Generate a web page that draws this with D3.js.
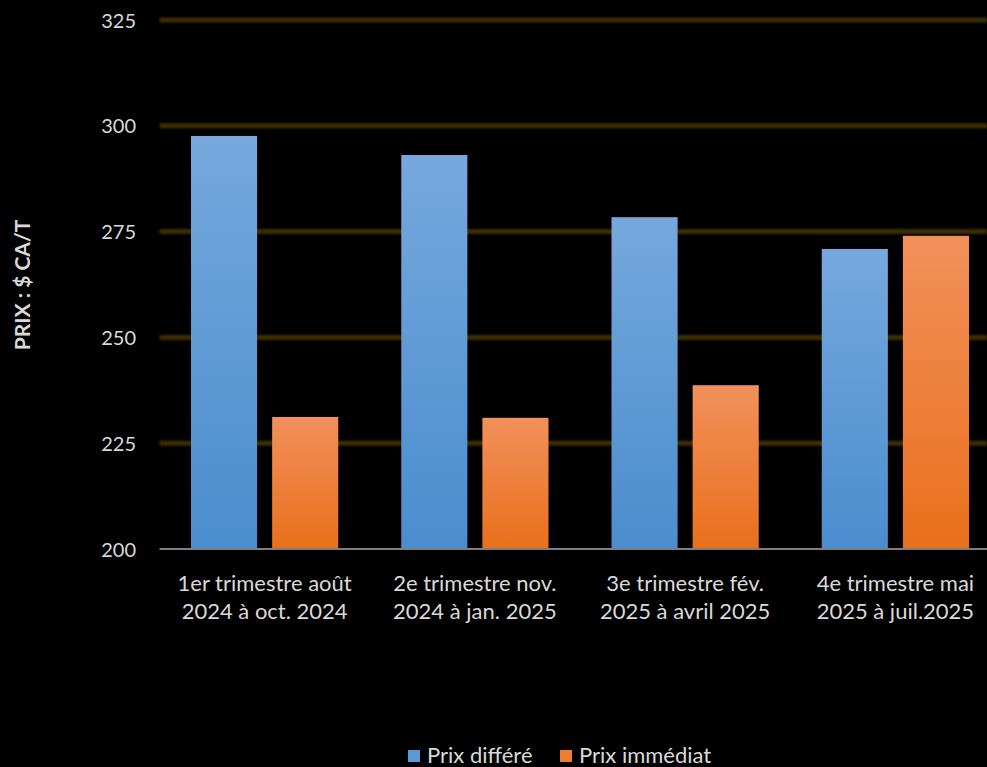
<!DOCTYPE html>
<html>
<head>
<meta charset="utf-8">
<script src="https://cdn.jsdelivr.net/npm/d3@7"></script>
<style>
  html, body { margin: 0; padding: 0; background: #000; overflow: hidden; }
  svg { display: block; }
  text { font-family: Lato, "Open Sans", sans-serif; }
</style>
</head>
<body>
<svg id="chart" width="987" height="767"></svg>
<script>
// Trimestres (libellés sur deux lignes)
const categories = [
  ["1er trimestre août", "2024 à oct. 2024"],
  ["2e trimestre nov.", "2024 à jan. 2025"],
  ["3e trimestre fév.", "2025 à avril 2025"],
  ["4e trimestre mai", "2025 à juil.2025"]
];
const seriesNames = ["Prix différé", "Prix immédiat"];
const prixDiffere = [297.6, 293.1, 278.4, 270.9];
const prixImmediat = [231.2, 231.0, 238.7, 274.0];
const yTicks = [200, 225, 250, 275, 300, 325];
const yLabel = "PRIX : $ CA/T";

const svg = d3.select("#chart");
const plotLeft = 159.5, plotRight = 1000.5, plotTop = 20, plotBottom = 549;

const x0 = d3.scaleBand().domain(d3.range(categories.length)).range([plotLeft, plotRight]).paddingInner(0).paddingOuter(0);
const x1 = d3.scaleBand().domain([0, 1]).range([31.5, x0.bandwidth() - 31.5]).paddingInner(0.185);
const y = d3.scaleLinear().domain([200, 325]).range([plotBottom, plotTop]);

// Dégradés des barres
const defs = svg.append("defs");
const grads = [
  { id: "gBlue", c0: "#76a8dd", c1: "#4a8dce" },
  { id: "gOrange", c0: "#f2905b", c1: "#e9701c" }
];
grads.forEach(g => {
  const lg = defs.append("linearGradient").attr("id", g.id)
    .attr("x1", 0).attr("y1", 0).attr("x2", 0).attr("y2", 1);
  lg.append("stop").attr("offset", "0%").attr("stop-color", g.c0);
  lg.append("stop").attr("offset", "100%").attr("stop-color", g.c1);
});
const glow = defs.append("filter").attr("id", "soft")
  .attr("filterUnits", "userSpaceOnUse")
  .attr("x", 0).attr("y", 0).attr("width", 987).attr("height", 767);
glow.append("feGaussianBlur").attr("stdDeviation", 0.8);

// Quadrillage horizontal
const gridG = svg.append("g");
gridG.selectAll("line").data(yTicks.filter(t => t > 200)).join("line")
  .attr("x1", plotLeft).attr("x2", 987)
  .attr("y1", d => y(d)).attr("y2", d => y(d))
  .attr("stroke", "#3e2d06").attr("stroke-width", 5)
  .attr("filter", "url(#soft)");

// Axe Y (étiquettes seulement)
const yAxis = d3.axisLeft(y).tickValues(yTicks).tickSize(0).tickPadding(0);
const yG = svg.append("g").attr("transform", `translate(136,0)`).call(yAxis);
yG.select(".domain").remove();
yG.selectAll("text").attr("fill", "#d9d9d9").style("font-size", "20px").attr("dy", "0.35em");

// Barres
const data = categories.map((c, i) => [prixDiffere[i], prixImmediat[i]]);
const groups = svg.append("g").selectAll("g").data(data).join("g")
  .attr("transform", (d, i) => `translate(${x0(i)},0)`);
groups.selectAll("rect").data(d => d).join("rect")
  .attr("x", (d, j) => x1(j))
  .attr("width", x1.bandwidth())
  .attr("y", d => y(d))
  .attr("height", d => y(200) - y(d))
  .attr("fill", (d, j) => j === 0 ? "url(#gBlue)" : "url(#gOrange)");

// Axe X
const xAxis = d3.axisBottom(x0).tickSize(0).tickFormat(() => "");
const xG = svg.append("g").attr("transform", `translate(0,${plotBottom})`).call(xAxis);
xG.select(".domain").attr("stroke", "#7f7f7f").attr("stroke-width", 2)
  .attr("d", `M${plotLeft},0H987`);
xG.selectAll(".tick").each(function(d, i) {
  const t = d3.select(this).append("text")
    .attr("fill", "#d9d9d9").attr("text-anchor", "middle")
    .style("font-size", "22px");
  categories[i].forEach((line, k) => {
    t.append("tspan").attr("x", 0).attr("y", 42 + k * 28).text(line);
  });
});

// Titre de l'axe Y
svg.append("text")
  .attr("transform", "translate(30,285) rotate(-90)")
  .attr("text-anchor", "middle")
  .attr("fill", "#d9d9d9")
  .style("font-size", "21px").style("font-weight", "bold")
  .text(yLabel);

// Légende
const legendColors = ["#5b9bd5", "#ed7d31"];
const legend = svg.append("g");
const itemX = [408, 560];
seriesNames.forEach((name, i) => {
  const g = legend.append("g").attr("transform", `translate(${itemX[i]},750)`);
  g.append("rect").attr("width", 12).attr("height", 12).attr("fill", legendColors[i]);
  g.append("text").attr("x", 19).attr("y", 13).attr("fill", "#d9d9d9")
    .style("font-size", "22px").text(name);
});
</script>
</body>
</html>
